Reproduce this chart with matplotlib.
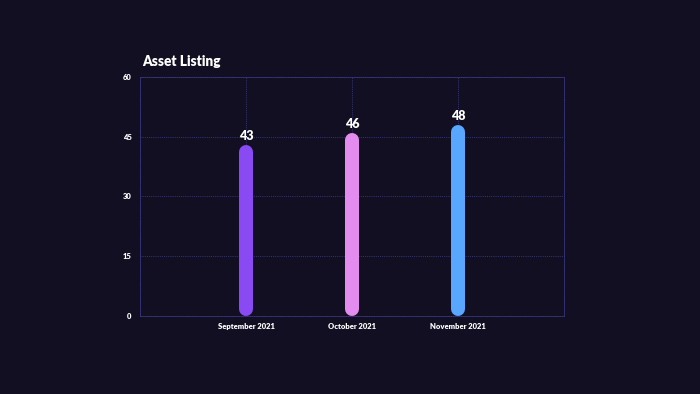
import numpy as np
import matplotlib.pyplot as plt

months = ["September 2021", "October 2021", "November 2021"]
listings = [43, 46, 48]
bar_colors = ["#8a4af3", "#e38bef", "#58a6ff"]
y_ticks = [0, 15, 30, 45, 60]

bg = "#110f21"
grid_col = "#35347a"

plt.rcParams['font.family'] = ['Lato', 'DejaVu Sans']

fig = plt.figure(figsize=(7, 3.94), dpi=100, facecolor=bg)
ax = fig.add_axes([0.2, 0.198, 0.6057, 0.6066], facecolor=bg)

ax.set_xlim(0, 4)
ax.set_ylim(0, 60)

# bar width in px and cap radius converted to data units
bar_px = 14
ax_h_px = ax.get_position().height * fig.get_figheight() * fig.dpi
r = (bar_px / 2) * 60 / ax_h_px
lw = bar_px * 72 / fig.dpi

xs = np.arange(1, len(months) + 1)
for x, v, c in zip(xs, listings, bar_colors):
    ax.plot([x, x], [r, v - r], color=c, lw=lw, solid_capstyle="round", zorder=3)
    ax.text(x, v + 0.7, str(v), ha="center", va="bottom", color="white",
            fontsize=9, fontweight="heavy", zorder=4)

ax.set_xticks(xs)
ax.set_xticklabels(months)
ax.set_yticks(y_ticks)
ax.tick_params(axis="both", length=0, colors="white", labelsize=5.5, pad=6)
ax.tick_params(axis="x", pad=5)
for lab in ax.get_xticklabels() + ax.get_yticklabels():
    lab.set_fontweight("heavy")

dots = (0, (1, 1.2))
ax.grid(True, axis="y", color=grid_col, linestyle=dots, linewidth=0.7, zorder=0)
for gx in [0, 1, 2, 3, 4]:
    ax.axvline(gx, color=grid_col, linestyle=dots, linewidth=0.7, zorder=0)
for s in ax.spines.values():
    s.set_color(grid_col)
    s.set_linestyle(dots)
    s.set_linewidth(0.7)

fig.text(142 / 700, 1 - 61 / 394, "Asset Listing", color="white", fontsize=9.8,
         fontweight="heavy", ha="left", va="center")

fig.savefig("out.png", dpi=100, facecolor=bg)
